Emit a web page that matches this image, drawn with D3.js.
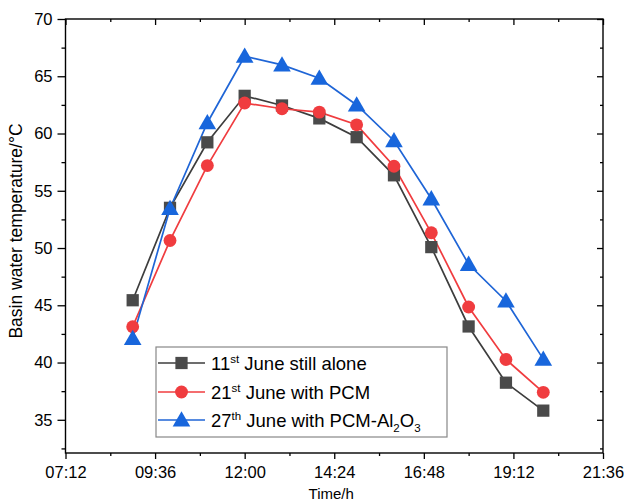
<!DOCTYPE html>
<html><head><meta charset="utf-8">
<script src="https://cdn.jsdelivr.net/npm/d3@7"></script>
<style>body{margin:0;background:#fff}svg{display:block;font-family:"Liberation Sans",Arial,sans-serif}</style>
</head><body><svg id="c" width="624" height="503"></svg>
<script>
const hours = [9,10,11,12,13,14,15,16,17,18,19,20];
const stillAlone = [45.44,53.51,59.23,63.29,62.45,61.32,59.68,56.35,50.08,43.15,38.24,35.80];
const withPCM = [43.13,50.66,57.20,62.66,62.16,61.87,60.76,57.14,51.33,44.85,40.27,37.40];
const withPCMAl2O3 = [42.11,53.45,60.94,66.75,65.99,64.83,62.49,59.37,54.30,48.58,45.38,40.30];
const xTicks = [7.2,9.6,12,14.4,16.8,19.2,21.6];
const xTickLabels = ["07:12","09:36","12:00","14:24","16:48","19:12","21:36"];
const yTicks = [35,40,45,50,55,60,65,70];
const xMinor = [8.4,10.8,13.2,15.6,18,20.4];
const yMinor = [32.5,37.5,42.5,47.5,52.5,57.5,62.5,67.5];

const svg = d3.select("#c");
const L=65.5,R=603,T=19,B=453;
const x = d3.scaleLinear().domain([7.2,21.6]).range([L,R]);
const y = d3.scaleLinear().domain([32.1,70]).range([B,T]);

svg.append("g").attr("transform",`translate(0,${B})`)
  .call(d3.axisBottom(x).tickValues(xTicks).tickFormat((d,i)=>xTickLabels[i]).tickSize(6).tickPadding(7));
svg.append("g").attr("transform",`translate(0,${B})`)
  .call(d3.axisBottom(x).tickValues(xMinor).tickFormat("").tickSize(3));
svg.append("g").attr("transform",`translate(${L},0)`)
  .call(d3.axisLeft(y).tickValues(yTicks).tickSize(8).tickPadding(5));
svg.append("g").attr("transform",`translate(${L},0)`)
  .call(d3.axisLeft(y).tickValues(yMinor).tickFormat("").tickSize(4));
svg.append("g").attr("transform",`translate(0,${T})`)
  .call(d3.axisBottom(x).tickValues(xTicks).tickFormat("").tickSize(6));
svg.append("g").attr("transform",`translate(0,${T})`)
  .call(d3.axisBottom(x).tickValues(xMinor).tickFormat("").tickSize(3));
svg.append("g").attr("transform",`translate(${R},0)`)
  .call(d3.axisLeft(y).tickValues(yTicks).tickFormat("").tickSize(6));
svg.append("g").attr("transform",`translate(${R},0)`)
  .call(d3.axisLeft(y).tickValues(yMinor).tickFormat("").tickSize(3));

svg.selectAll(".domain").remove();
svg.selectAll(".tick line").attr("stroke","#000").attr("stroke-width",1.3);
svg.selectAll(".tick text").attr("fill","#000").style("font-size","16.5px").style("font-family","'Liberation Sans',Arial,sans-serif");
svg.append("rect").attr("x",L).attr("y",T).attr("width",R-L).attr("height",B-T)
  .attr("fill","none").attr("stroke","#000").attr("stroke-width",1.4);

svg.append("text").attr("x",(L+R)/2-3).attr("y",499).attr("text-anchor","middle")
  .style("font-size","15px").text("Time/h");
svg.append("text").attr("transform",`translate(22,231) rotate(-90)`).attr("text-anchor","middle")
  .style("font-size","17.5px").text("Basin water temperature/°C");

const series = [
  {vals:stillAlone, line:"#3d3d3d", fill:"#4a4a4a", sym:d3.symbolSquare, size:150},
  {vals:withPCM, line:"#f03c3f", fill:"#f03c3f", sym:d3.symbolCircle, size:130},
  {vals:withPCMAl2O3, line:"#1f65d6", fill:"#1866dc", sym:d3.symbolTriangle, size:135}
];
const line = d3.line().x((d,i)=>x(hours[i])).y(d=>y(d));
series.forEach(s=>{
  svg.append("path").datum(s.vals).attr("d",line).attr("fill","none")
    .attr("stroke",s.line).attr("stroke-width",1.7);
});
series.forEach(s=>{
  svg.append("g").selectAll("path").data(s.vals).join("path")
    .attr("transform",(d,i)=>`translate(${x(hours[i])},${y(d)+(s.sym===d3.symbolTriangle?1.5:0)})`)
    .attr("d",d3.symbol().type(s.sym).size(s.size)).attr("fill",s.fill);
});

const lg = svg.append("g");
lg.append("rect").attr("x",156).attr("y",347).attr("width",291).attr("height",90)
  .attr("fill","#fff").attr("stroke","#888").attr("stroke-width",1.2);
const rows=[363,392,420];
const labels=[
  [["11",0],["st",1],[" June still alone",0]],
  [["21",0],["st",1],[" June with PCM",0]],
  [["27",0],["th",1],[" June with PCM-Al",0],["2",-1],["O",0],["3",-1]]
];
series.forEach((s,i)=>{
  lg.append("line").attr("x1",158).attr("x2",205).attr("y1",rows[i]).attr("y2",rows[i])
    .attr("stroke",s.line).attr("stroke-width",1.7);
  lg.append("path").attr("transform",`translate(181.5,${rows[i]+(s.sym===d3.symbolTriangle?1.5:0)})`)
    .attr("d",d3.symbol().type(s.sym).size(s.size)).attr("fill",s.fill);
  const t = lg.append("text").attr("x",211).attr("y",rows[i]+6.5).style("font-size","18.5px");
  let prev=0;
  labels[i].forEach(([txt,k])=>{
    const target = k===1?-7:(k===-1?5:0);
    const ts=t.append("tspan").text(txt).attr("dy",target-prev);
    if(k!==0) ts.style("font-size","11.5px");
    prev=target;
  });
});
</script></body></html>
